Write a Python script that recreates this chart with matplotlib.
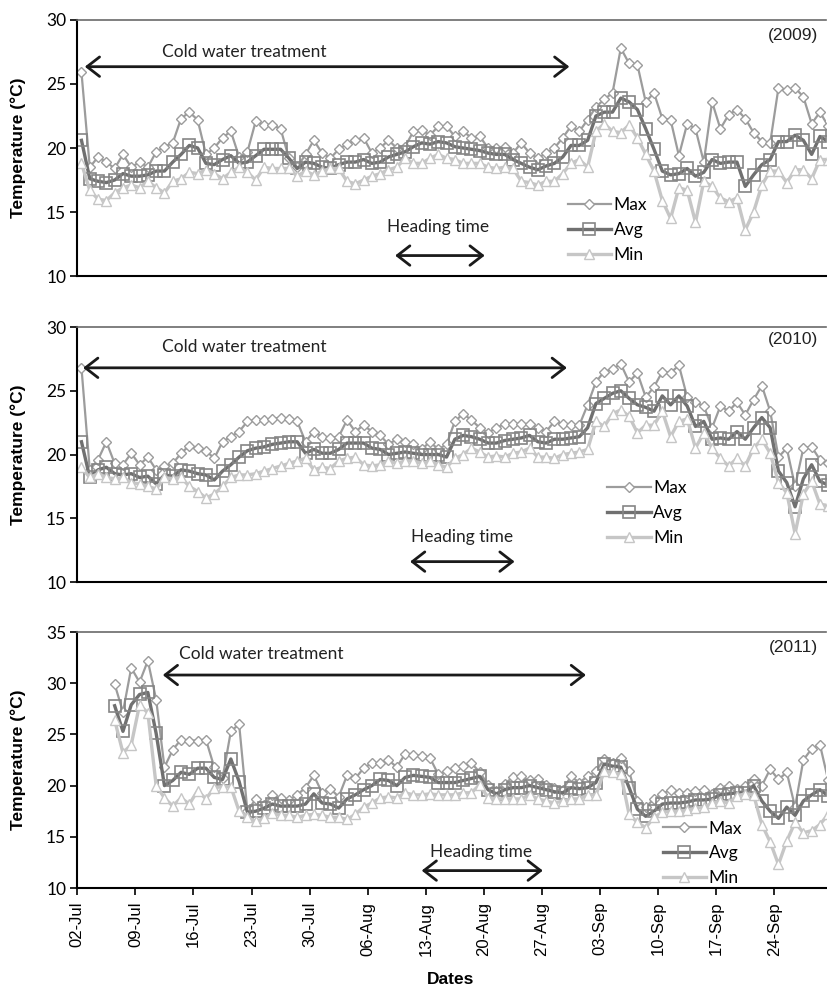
import numpy as np
import matplotlib
matplotlib.use("Agg")
import matplotlib.pyplot as plt

plt.rcParams['font.family'] = ['Liberation Sans', 'DejaVu Sans']

nan = np.nan

# days counted from 02-Jul
days = np.arange(91)
tick_days = [0, 7, 14, 21, 28, 35, 42, 49, 56, 63, 70, 77, 84]
tick_labels = ["02-Jul", "09-Jul", "16-Jul", "23-Jul", "30-Jul", "06-Aug", "13-Aug",
               "20-Aug", "27-Aug", "03-Sep", "10-Sep", "17-Sep", "24-Sep"]

max_2009 = [25.9, 18.5, 19.3, 18.9, 18.4, 19.5, 18.5, 18.9, 18.5, 19.7, 20.1, 20.4, 22.3, 22.8, 22.2, 19.5,
            20.0, 20.8, 21.3, 19.3, 19.7, 22.1, 21.8, 21.8, 21.5, 19.2, 18.5, 19.5, 20.6, 19.6, 19.2,
            19.9, 20.3, 20.6, 20.8, 19.6, 20.0, 20.6, 20.0, 20.1, 21.3, 21.4, 21.0, 21.7, 21.7, 20.9,
            21.3, 20.8, 20.9, 20.0, 20.0, 20.1, 19.6, 20.4, 19.6, 19.2, 19.6, 20.0, 20.8,
            21.7, 21.3, 22.2, 23.2, 23.8, 24.3, 27.8, 26.6, 26.5, 23.6, 24.3, 22.3, 22.2, 19.4, 21.9,
            21.5, 18.9, 23.6, 21.5, 22.6, 23.0, 22.3, 21.2, 20.5, 20.4, 24.7, 24.5, 24.7, 24.0, 21.9,
            22.8, 21.7]
avg_2009 = [20.6, 17.6, 17.4, 17.3, 17.5, 18.0, 17.8, 17.8, 17.9, 18.2, 18.2, 18.9, 19.5, 20.2, 20.0, 18.8,
            18.7, 19.1, 19.4, 18.8, 18.9, 19.4, 19.9, 19.9, 19.9, 19.2, 18.4, 18.9, 18.8, 18.5, 18.4,
            18.7, 18.9, 18.9, 19.1, 18.8, 18.9, 19.3, 19.5, 19.7, 20.1, 20.4, 20.3, 20.5, 20.4, 20.1,
            20.0, 19.9, 19.8, 19.6, 19.5, 19.5, 19.1, 18.8, 18.5, 18.3, 18.6, 18.8, 19.3,
            20.2, 20.2, 20.6, 22.5, 22.8, 22.8, 23.9, 23.6, 23.0, 21.5, 19.9, 18.2, 17.9, 18.0, 18.4,
            17.8, 18.1, 19.1, 18.8, 18.9, 18.9, 17.0, 17.9, 18.7, 19.1, 20.5, 20.5, 21.0, 20.6, 19.5,
            20.9, 20.5]
min_2009 = [18.8, 16.7, 16.0, 15.9, 16.5, 16.9, 17.1, 16.9, 17.4, 16.9, 16.5, 17.4, 17.6, 18.1, 18.0, 18.3,
            18.0, 17.6, 18.1, 18.5, 18.1, 17.5, 18.5, 18.4, 18.4, 18.4, 17.8, 18.2, 17.9, 18.2, 18.4,
            18.4, 17.4, 17.2, 17.5, 17.8, 18.0, 18.3, 18.5, 19.2, 18.8, 18.8, 19.2, 19.5, 19.2, 19.1,
            18.8, 18.8, 18.8, 18.5, 18.4, 18.5, 18.4, 17.4, 17.3, 17.1, 17.4, 17.4, 18.0,
            18.8, 19.1, 18.5, 21.3, 21.9, 21.3, 21.2, 21.8, 20.8, 19.5, 18.2, 15.9, 14.5, 16.9, 16.7,
            14.2, 17.4, 17.0, 16.1, 15.8, 16.1, 13.6, 15.0, 17.1, 18.2, 18.2, 17.3, 18.3, 18.3, 17.6,
            19.1, 19.1]

max_2010 = [26.8, 18.8, 19.6, 21.0, 19.3, 19.2, 20.1, 19.2, 19.8, 18.8, 19.1, 19.3, 20.1, 20.7, 20.5, 20.3,
            19.7, 21.0, 21.4, 21.8, 22.6, 22.7, 22.7, 22.8, 22.9, 22.8, 22.6, 21.0, 21.8, 21.4, 21.3,
            21.4, 22.7, 21.8, 22.3, 21.8, 21.5, 20.8, 21.2, 21.0, 20.8, 20.4, 21.0, 20.4, 20.8, 22.6,
            23.2, 22.7, 22.1, 21.7, 22.1, 22.4, 22.4, 22.4, 22.4, 22.1, 21.8, 22.6, 22.4,
            22.3, 22.3, 23.9, 25.7, 26.5, 26.7, 27.1, 25.7, 26.4, 24.5, 25.3, 26.5, 26.4, 27.0, 24.5,
            24.1, 23.8, 22.1, 23.8, 23.4, 24.1, 23.1, 24.3, 25.4, 23.4, 19.8, 20.5, 17.5, 20.5, 20.6,
            19.6, 19.3]
avg_2010 = [21.0, 18.2, 18.8, 19.0, 18.5, 18.4, 18.5, 18.2, 18.3, 17.7, 18.4, 18.3, 18.8, 18.7, 18.5, 18.4,
            18.0, 18.7, 19.2, 19.8, 20.3, 20.5, 20.6, 20.8, 20.9, 21.0, 21.0, 20.1, 20.4, 20.1, 20.1,
            20.4, 20.9, 20.9, 20.9, 20.5, 20.4, 20.0, 20.1, 20.2, 20.1, 20.0, 20.0, 20.0, 19.8, 21.2,
            21.5, 21.4, 21.2, 20.9, 20.9, 21.1, 21.2, 21.3, 21.5, 21.0, 20.9, 21.2, 21.2,
            21.3, 21.4, 22.1, 24.0, 24.4, 24.8, 25.0, 24.4, 23.9, 23.7, 23.4, 24.6, 23.9, 24.6, 23.8,
            22.2, 22.6, 21.2, 21.3, 21.2, 21.8, 21.2, 22.1, 22.9, 22.1, 18.7, 17.8, 15.9, 18.1, 19.2,
            17.9, 17.6]
min_2010 = [19.0, 18.2, 18.5, 18.2, 18.1, 18.2, 17.8, 17.7, 17.5, 17.3, 18.2, 18.1, 18.2, 17.5, 17.1, 16.6,
            16.9, 17.5, 18.2, 18.4, 18.4, 18.5, 18.7, 18.9, 19.1, 19.3, 19.5, 19.7, 18.8, 19.0, 18.9,
            19.5, 19.7, 19.8, 19.2, 19.1, 19.2, 19.5, 19.3, 19.5, 19.5, 19.3, 19.5, 19.2, 19.0, 19.7,
            20.0, 20.5, 20.2, 19.8, 19.9, 19.8, 20.1, 20.2, 20.5, 19.8, 19.8, 19.7, 20.0,
            20.1, 20.2, 20.4, 22.6, 22.2, 23.2, 23.5, 23.0, 21.7, 22.3, 22.3, 23.4, 21.4, 22.6, 22.8,
            20.5, 21.7, 20.5, 19.7, 19.1, 19.7, 19.1, 20.5, 21.2, 20.1, 17.8, 17.0, 13.8, 16.9, 17.9,
            16.1, 16.0]

max_2011 = [nan, nan, nan, nan,
            29.9, 27.2, 31.5, 30.1, 32.2, 28.4, 21.8, 23.5, 24.5, 24.4, 24.4, 24.5, 21.8, 20.7, 25.3,
            26.0, 17.5, 18.7, 18.1, 19.1, 18.8, 18.6, 19.1, 19.8, 21.0, 19.3, 19.7, 18.9, 21.0, 20.7,
            21.7, 22.2, 22.2, 22.5, 21.8, 23.1, 23.0, 22.9, 22.7, 21.1, 21.4,
            21.7, 21.9, 22.2, 21.3, 20.1, 19.5, 20.2, 20.8, 20.9, 20.5, 20.6, 20.1, 19.8, 19.6, 20.9,
            20.3, 20.9, 21.4, 22.6, 22.2, 22.7,
            21.4, 18.5, 17.9, 18.7, 19.2, 19.6, 19.3, 19.3, 19.5, 19.6, 19.2, 19.8, 20.0, 19.7, 20.0,
            20.6, 20.0, 21.6, 20.6, 21.3, 17.9, 22.5, 23.6, 24.0, 20.5]
avg_2011 = [nan, nan, nan, nan,
            27.8, 25.3, 27.9, 28.9, 29.1, 25.1, 20.0, 20.5, 21.3, 21.1, 21.7, 21.7, 20.8, 20.6, 22.6,
            20.4, 17.4, 17.5, 17.8, 18.2, 18.0, 18.0, 18.0, 18.2, 19.2, 18.3, 18.2, 17.8, 18.7, 19.1,
            19.6, 20.0, 20.6, 20.5, 20.0, 20.8, 21.0, 20.9, 20.8, 20.3, 20.3,
            20.3, 20.5, 20.7, 20.9, 19.6, 19.2, 19.6, 19.8, 19.8, 20.0, 19.8, 19.6, 19.4, 19.3, 19.8,
            19.7, 19.8, 20.3, 22.1, 21.9, 21.8,
            19.8, 17.7, 17.0, 17.5, 18.2, 18.3, 18.3, 18.4, 18.6, 18.6, 18.7, 19.1, 19.2, 19.3, 19.3,
            20.0, 18.5, 17.5, 16.8, 17.9, 17.1, 18.5, 19.1, 19.6, 19.0]
min_2011 = [nan, nan, nan, nan,
            26.4, 23.2, 24.0, 27.9, 27.1, 20.0, 18.8, 18.0, 18.8, 18.2, 19.5, 18.7, 19.8, 19.9, 19.9,
            17.5, 16.9, 16.5, 16.8, 17.3, 17.1, 17.1, 16.9, 17.1, 17.2, 17.1, 16.9, 16.9, 16.7, 17.2,
            17.9, 18.3, 18.8, 18.9, 18.8, 19.3, 19.1, 19.1, 19.2, 19.1, 19.1,
            19.1, 19.3, 19.3, 20.1, 18.8, 18.7, 18.7, 18.7, 18.7, 19.1, 18.7, 18.5, 18.3, 18.5, 18.7,
            18.7, 19.1, 19.1, 21.4, 21.3, 21.1,
            17.2, 16.4, 15.9, 16.9, 17.4, 17.5, 17.5, 17.6, 17.8, 17.9, 18.3, 18.5, 18.3, 19.0, 19.2,
            19.1, 16.2, 14.5, 12.3, 14.6, 16.4, 15.4, 15.6, 16.2, 17.2]

MAX_C = '#9c9c9c'
AVG_C = '#707070'
AVG_MK = '#858585'
MIN_C = '#c6c6c6'
ARROW_C = '#1a1a1a'
LATO = ['Lato', 'DejaVu Sans']

# one entry per panel: data, axis range and annotation placement (data coords / axes fractions)
panels = [
    dict(year="(2009)", series=(max_2009, avg_2009, min_2009), ylim=(10, 30), yticks=[10, 15, 20, 25, 30],
         rect=[0.0935, 0.7206, 0.905, 0.2592], cold=(0.9, 59.3, 26.35, 20.1, 27.5),
         head=(38.3, 49.1, 11.6, 43.5, 13.8), year_y=0.94, leg=(0.655, 0.18)),
    dict(year="(2010)", series=(max_2010, avg_2010, min_2010), ylim=(10, 30), yticks=[10, 15, 20, 25, 30],
         rect=[0.0935, 0.4109, 0.905, 0.2581], cold=(0.7, 59.0, 26.8, 20.1, 28.4),
         head=(40.1, 52.7, 11.6, 46.4, 13.5), year_y=0.95, leg=(0.708, 0.27)),
    dict(year="(2011)", series=(max_2011, avg_2011, min_2011), ylim=(10, 35), yticks=[10, 15, 20, 25, 30, 35],
         rect=[0.0935, 0.1012, 0.905, 0.2591], cold=(10.3, 61.3, 30.8, 22.2, 32.9),
         head=(41.5, 56.1, 11.7, 48.6, 13.5), year_y=0.94, leg=(0.782, 0.136)),
]

fig = plt.figure(figsize=(8.27, 9.88), dpi=100)
x = days + 0.5  # points sit between the date ticks

for i, p in enumerate(panels):
    ax = fig.add_axes(p["rect"])
    mx, av, mn = p["series"]
    ax.plot(x, mx, color=MAX_C, lw=1.6, marker='D', ms=5.5, mfc='white', mec=MAX_C, mew=1.0, label='Max')
    ax.plot(x, av, color=AVG_C, lw=2.4, marker='s', ms=8, mfc='none', mec=AVG_MK, mew=1.2, label='Avg')
    ax.plot(x, mn, color=MIN_C, lw=2.4, marker='^', ms=6.5, mfc='white', mec=MIN_C, mew=1.0, label='Min')

    ax.set_xlim(0, 90.2)
    ax.set_ylim(*p["ylim"])
    ax.set_yticks(p["yticks"])
    ax.spines['right'].set_visible(False)
    ax.spines['top'].set_color('#6a6a6a')
    ax.spines['top'].set_linewidth(1.2)
    ax.spines['left'].set_linewidth(1.5)
    ax.spines['bottom'].set_linewidth(1.5)
    ax.tick_params(axis='y', direction='out', length=5, width=1.2, labelsize=12.5, pad=3)
    for lab in ax.get_yticklabels():
        lab.set_fontfamily(LATO)

    if i < 2:
        ax.tick_params(axis='x', bottom=False, labelbottom=False)
    else:
        ax.set_xticks(tick_days)
        ax.set_xticklabels(tick_labels, rotation=90, fontsize=12)
        ax.tick_params(axis='x', direction='out', length=5, width=1.2, pad=5)

    x0, x1, ya, xt, yt = p["cold"]
    ax.annotate('', xy=(x1, ya), xytext=(x0, ya),
                arrowprops=dict(arrowstyle='<->, head_length=0.45, head_width=0.35', lw=2,
                                color=ARROW_C, shrinkA=0, shrinkB=0, mutation_scale=20))
    ax.text(xt, yt, "Cold water treatment", ha='center', va='center', fontsize=12.5,
            family=LATO, color='#222222')

    h0, h1, yh, xht, yht = p["head"]
    ax.annotate('', xy=(h1, yh), xytext=(h0, yh),
                arrowprops=dict(arrowstyle='<->, head_length=0.45, head_width=0.35', lw=2,
                                color=ARROW_C, shrinkA=0, shrinkB=0, mutation_scale=20))
    ax.text(xht, yht, "Heading time", ha='center', va='center', fontsize=12.5,
            family=LATO, color='#222222')

    ax.text(0.99, p["year_y"], p["year"], transform=ax.transAxes, ha='right', va='center',
            fontsize=12.5, color='#222222')

    ax.legend(loc='center left', bbox_to_anchor=p["leg"], frameon=False,
              handlelength=2.5, handletextpad=0.15, labelspacing=0.5, borderpad=0,
              borderaxespad=0, numpoints=1, prop={'family': LATO, 'size': 12.5})

    cy = p["rect"][1] + p["rect"][3] / 2
    fig.text(0.022, cy, "Temperature (°C)", rotation=90, ha='center', va='center',
             fontsize=12.5, fontweight='bold')

fig.text(0.545, 0.0085, "Dates", ha='center', va='center', fontsize=12.5, fontweight='bold')

fig.savefig("out.png", dpi=100)
